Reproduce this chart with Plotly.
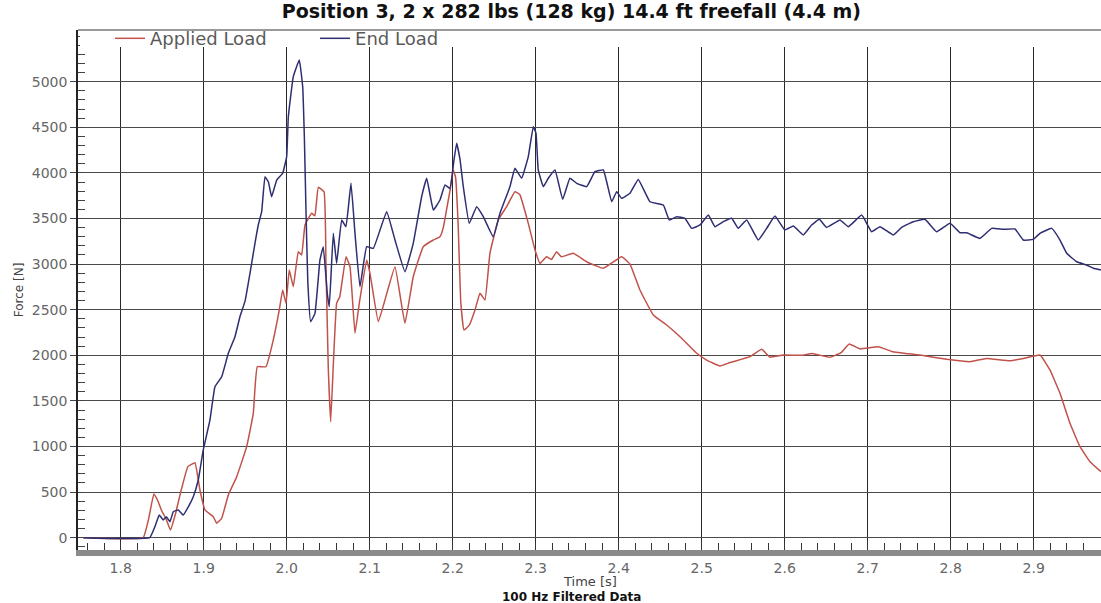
import plotly.graph_objects as go

# ---- data ----
applied_t = [1.755, 1.827, 1.834, 1.840, 1.845, 1.849, 1.855, 1.860, 1.866, 1.871, 1.881, 1.8895,
             1.8955, 1.9016, 1.9116, 1.9157, 1.9217, 1.9297, 1.9398, 1.9518, 1.9598, 1.9646, 1.9751,
             1.9839, 1.9911, 1.9952, 1.9992, 2.0031, 2.008, 2.014, 2.018, 2.0221, 2.0301, 2.034,
             2.0381, 2.045, 2.0474, 2.0501, 2.053, 2.0561, 2.0602, 2.064, 2.0715, 2.0763, 2.0823,
             2.0875, 2.0964, 2.1004, 2.1104, 2.1184, 2.1305, 2.1425, 2.1525, 2.1646, 2.1767, 2.1847,
             2.1887, 2.1927, 2.1967, 2.2007, 2.2035, 2.2067, 2.2096, 2.2136, 2.220, 2.2269, 2.2329,
             2.2389, 2.2449, 2.2549, 2.265, 2.275, 2.281, 2.2911, 2.2992, 2.3052, 2.313, 2.319,
             2.3253, 2.331, 2.3453, 2.3614, 2.3815, 2.4036, 2.4136, 2.4256, 2.4417, 2.4578, 2.4739,
             2.494, 2.506, 2.522, 2.534, 2.5582, 2.5723, 2.582, 2.5983, 2.622, 2.633, 2.6546, 2.668,
             2.6778, 2.6907, 2.7128, 2.730, 2.763, 2.7952, 2.8232, 2.843, 2.8714, 2.8875, 2.9076,
             2.9196, 2.9317, 2.9437, 2.9558, 2.9679, 2.981]
applied_f = [0, 0, 220, 479, 400, 304, 200, 84, 260, 450, 779, 822,
             523, 304, 230, 158, 213, 468, 669, 998, 1364, 1875, 1875,
             2168, 2497, 2716, 2570, 2935, 2752, 3136, 3100, 3429, 3557, 3530,
             3842, 3794, 2971, 1875, 1272, 1875, 2570, 2643, 3081, 2971, 2241,
             2570, 3045, 2899, 2369, 2606, 2971, 2351, 2862, 3191, 3264, 3300,
             3400, 3600, 3800, 4032, 3950, 3410, 2606, 2277, 2330, 2497, 2680,
             2606, 3118, 3484, 3630, 3794, 3760, 3447, 3155, 3008, 3080, 3050,
             3136, 3080, 3118, 3026, 2954, 3081, 3000, 2716, 2442, 2332, 2204,
             2022, 1948, 1883, 1920, 1985, 2066, 1980, 2003, 2000, 2020, 1978, 2030,
             2124, 2070, 2094, 2040, 2003, 1956, 1930, 1965, 1941, 1965, 2003,
             1839, 1583, 1254, 998, 833, 724]

end_t = [1.755, 1.835, 1.8413, 1.8465, 1.8513, 1.855, 1.8594, 1.8634, 1.8694, 1.8754, 1.881, 1.8875,
         1.8935, 1.8995, 1.9076, 1.9136, 1.9217, 1.9297, 1.9377, 1.9437, 1.950, 1.9558, 1.9618,
         1.9658, 1.9699, 1.9739, 1.978, 1.9819, 1.988, 1.9952, 2.0, 2.002, 2.008, 2.0152, 2.0193,
         2.0213, 2.0235, 2.0255, 2.0289, 2.0341, 2.0401, 2.0441, 2.0489, 2.0513, 2.0562, 2.0602,
         2.0663, 2.0714, 2.0775, 2.0823, 2.0883, 2.0964, 2.1044, 2.1205, 2.1305, 2.1425, 2.1525,
         2.1626, 2.1687, 2.1767, 2.1847, 2.1907, 2.1967, 2.2016, 2.2048, 2.2088, 2.2128, 2.220,
         2.2289, 2.2369, 2.2489, 2.257, 2.269, 2.275, 2.2831, 2.2911, 2.2971, 2.3004, 2.3031,
         2.3092, 2.3152, 2.3233, 2.3325, 2.3413, 2.3494, 2.3614, 2.3714, 2.3815, 2.3916, 2.3976,
         2.4036, 2.4136, 2.4236, 2.4377, 2.4538, 2.461, 2.4699, 2.4799, 2.4879, 2.498, 2.508,
         2.516, 2.526, 2.5361, 2.5441, 2.5542, 2.5682, 2.5783, 2.5883, 2.6003, 2.6104, 2.6224,
         2.6325, 2.6417, 2.6506, 2.6666, 2.6767, 2.6928, 2.7048, 2.7148, 2.7309, 2.741, 2.755,
         2.769, 2.7831, 2.7992, 2.8112, 2.8193, 2.8353, 2.8494, 2.8634, 2.8775, 2.8875, 2.8995,
         2.9076, 2.9217, 2.9317, 2.9398, 2.9518, 2.9638, 2.9719, 2.981]
end_f = [0, 0, 121, 249, 194, 230, 175, 285, 304, 249, 330, 450,
         633, 962, 1291, 1656, 1765, 2022, 2204, 2423, 2600, 2899, 3228,
         3429, 3575, 3958, 3900, 3739, 3922, 3996, 4178, 4616, 5055, 5238, 4945,
         4400, 3500, 2800, 2369, 2460, 3045, 3191, 2680, 2533, 3338, 3008,
         3484, 3410, 3886, 3338, 2752, 3191, 3173, 3575, 3264, 2917, 3228,
         3739, 3941, 3593, 3703, 3868, 3830, 4142, 4325, 4150, 3849, 3447,
         3630, 3520, 3300, 3557, 3849, 4050, 3941, 4178, 4507, 4434, 4032,
         3849, 3941, 4032, 3710, 3941, 3886, 3849, 4013, 4032, 3684, 3794,
         3721, 3776, 3929, 3684, 3648, 3484, 3520, 3502, 3392, 3429, 3538,
         3410, 3465, 3502, 3392, 3484, 3264, 3392, 3527, 3374, 3418, 3319,
         3429, 3491, 3403, 3484, 3410, 3538, 3355, 3410, 3319, 3403, 3465,
         3491, 3355, 3447, 3344, 3344, 3282, 3392, 3381, 3385, 3264, 3271,
         3338, 3392, 3264, 3118, 3026, 2990, 2954, 2935]

series_names = ["Applied Load", "End Load"]
series_colors = ["#c0524a", "#2e2e72"]

x_tick_vals = [1.8, 1.9, 2.0, 2.1, 2.2, 2.3, 2.4, 2.5, 2.6, 2.7, 2.8, 2.9]
y_tick_vals = [0, 500, 1000, 1500, 2000, 2500, 3000, 3500, 4000, 4500, 5000]

title_text = "Position 3, 2 x 282 lbs (128 kg) 14.4 ft freefall (4.4 m)"
x_title = "Time [s]"
subtitle = "100 Hz Filtered Data"
y_title = "Force [N]"

FONT = "Verdana, DejaVu Sans, sans-serif"
X_RANGE = [1.7486, 2.9811]
Y_RANGE = [-135, 5567]
PLOT_H = 603 - 30 - 53

fig = go.Figure()
for name, t, f, c in [(series_names[0], applied_t, applied_f, series_colors[0]),
                      (series_names[1], end_t, end_f, series_colors[1])]:
    fig.add_trace(go.Scatter(x=t, y=f, mode="lines", name=name,
                             line=dict(color=c, width=1.5, shape="spline", smoothing=0.3)))

fig.update_layout(
    width=1101, height=603,
    margin=dict(l=78, r=0, t=30, b=53),
    paper_bgcolor="white", plot_bgcolor="white",
    font=dict(family=FONT, color="#555555", size=13),
    showlegend=True,
    legend=dict(orientation="h", x=0.0313, y=1.019, xanchor="left", yanchor="top",
                bgcolor="rgba(0,0,0,0)", font=dict(size=18, color="#5a5a5a"),
                entrywidth=160, entrywidthmode="pixels", tracegroupgap=0),
    xaxis=dict(range=X_RANGE, tickvals=x_tick_vals, tickformat=".1f",
               showgrid=True, gridcolor="#2a2a2a", gridwidth=1.2,
               zeroline=False, showline=True, linecolor="#8a8a8a", linewidth=6,
               ticks="inside", ticklen=8, tickcolor="#333333", tickwidth=1.2,
               tickfont=dict(size=14, color="#666666"),
               minor=dict(dtick=0.02, ticks="inside", ticklen=7, tickcolor="#333333",
                          tickwidth=1, showgrid=False)),
    yaxis=dict(range=Y_RANGE, tickvals=y_tick_vals,
               showgrid=True, gridcolor="#4a4a4a", gridwidth=1.2,
               zeroline=False, showline=True, linecolor="#222222", linewidth=1.5,
               ticks="outside", ticklen=6, tickcolor="#444444",
               tickfont=dict(size=14, color="#666666"),
               minor=dict(dtick=100, ticks="inside", ticklen=7, tickcolor="#444444",
                          tickwidth=1, showgrid=False),
               title=dict(text=y_title, font=dict(size=12, color="#444444"), standoff=6)),
    title=dict(text="<b>" + title_text + "</b>", x=0.519, xanchor="center",
               y=0.981, yanchor="middle", font=dict(size=19, color="#111111", family=FONT)),
)

# white band at top of plot area (vertical grid starts below the legend row)
fig.add_shape(type="rect", xref="paper", yref="y", x0=0.002, x1=1, y0=5380, y1=Y_RANGE[1],
              fillcolor="white", line=dict(width=0), layer="above")
# top frame line
fig.add_shape(type="line", xref="paper", yref="paper", x0=0, x1=1, y0=1, y1=1,
              line=dict(color="#777777", width=1.5), layer="above")

# x-axis title and caption
fig.add_annotation(text=x_title, xref="paper", yref="paper",
                   x=0.5, y=-(581 - 550) / PLOT_H, xanchor="center", yanchor="middle",
                   showarrow=False, font=dict(size=13, color="#444444", family=FONT))
fig.add_annotation(text="<b>" + subtitle + "</b>", xref="paper", yref="paper",
                   x=0.482, y=-(597 - 550) / PLOT_H, xanchor="center", yanchor="middle",
                   showarrow=False, font=dict(size=12, color="#111111", family=FONT))

fig.write_html("out.html", config={"displayModeBar": False},
               post_script="document.body.style.margin='0';document.body.style.overflow='hidden';")
